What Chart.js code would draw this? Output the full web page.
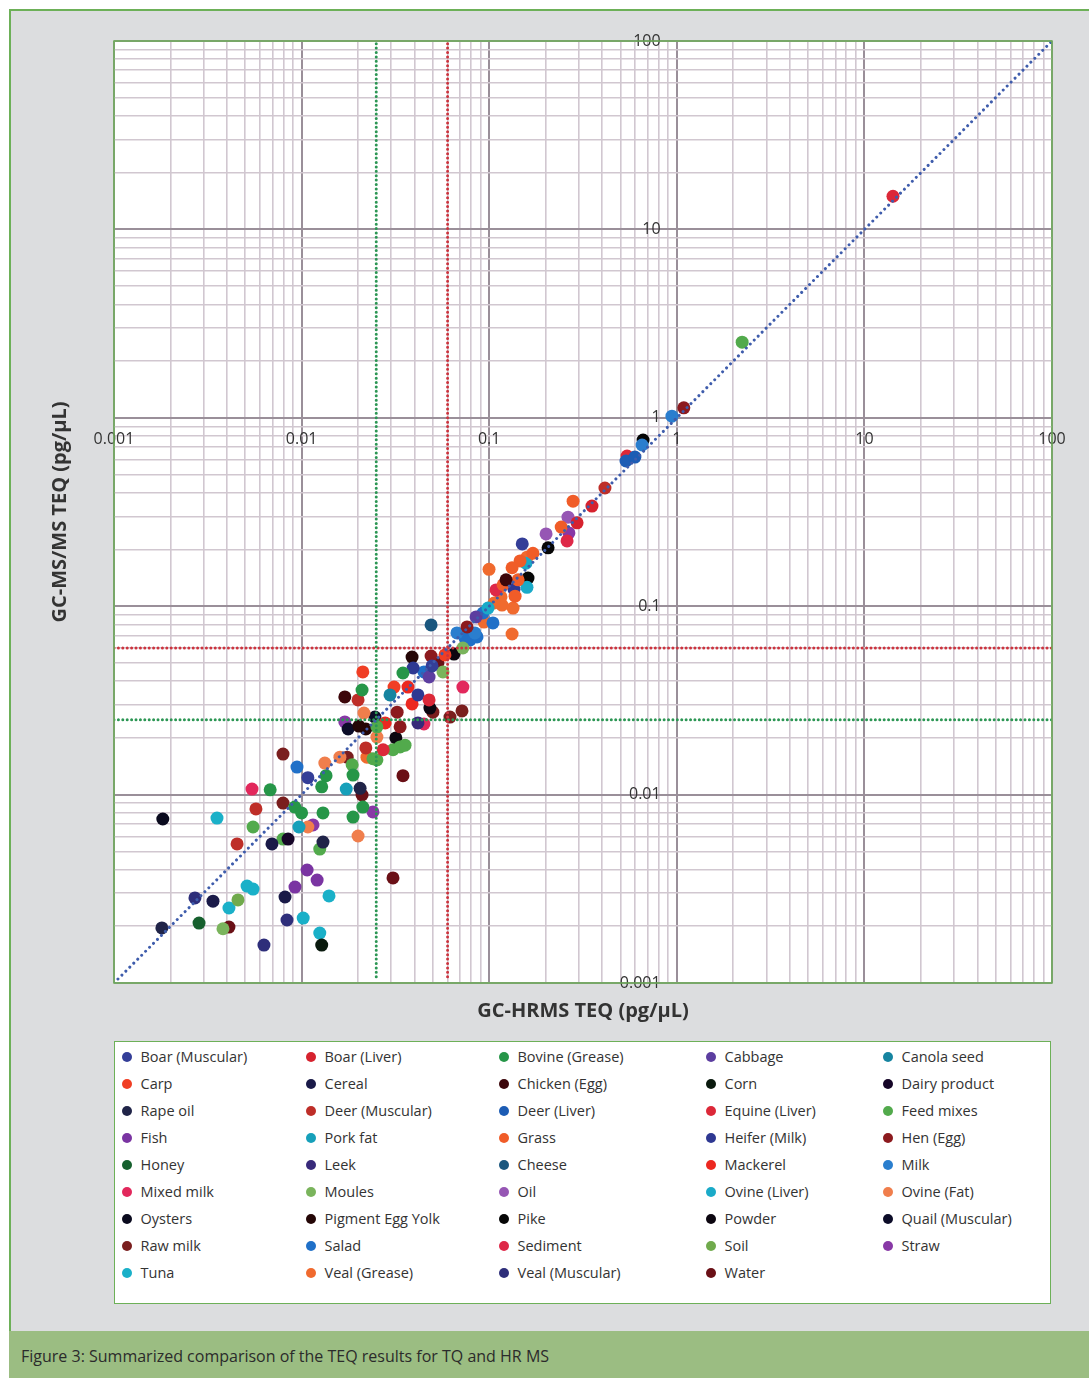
<!DOCTYPE html>
<html>
<head>
<meta charset="utf-8">
<script src="https://cdn.jsdelivr.net/npm/chart.js@4.4.1/dist/chart.umd.min.js"></script>
<style>
  html, body { margin: 0; padding: 0; background: #ffffff; }
  body { width: 1089px; height: 1378px; position: relative; overflow: hidden; font-family: 'Open Sans', sans-serif; }
  #frame { position: absolute; left: 9px; top: 9px; width: 1100px; height: 1380px; background: #dcdddf;
           border-left: 2px solid #6db058; border-top: 2px solid #6db058; }
  #chartWrap { position: absolute; left: 0; top: 0; width: 1089px; height: 1035px; }
  #legend { position: absolute; left: 114px; top: 1041px; width: 935px; height: 261px; background: #ffffff;
            border: 1.5px solid #6db058; box-sizing: content-box; }
  #legendGrid { position: absolute; left: 6.5px; top: 1px; display: grid;
                grid-template-columns: 184px 193px 207px 177px 170px; grid-auto-rows: 27px; }
  .li { display: flex; align-items: center; font-size: 14.5px; color: #333333; white-space: nowrap; }
  .li .dot { width: 10px; height: 10px; border-radius: 50%; margin-right: 9px; flex: 0 0 auto; }
  #caption { position: absolute; left: 9px; top: 1331px; width: 1090px; height: 50px; background: #9bbd82; }
  #caption span { position: absolute; left: 12px; top: 14px; font-size: 16px; color: #2b2b2b; }
</style>
</head>
<body>
<div id="frame"></div>
<div id="chartWrap"><canvas id="c" width="1089" height="1035"></canvas></div>
<div id="legend"><div id="legendGrid"></div></div>
<div id="caption"><span>Figure 3: Summarized comparison of the TEQ results for TQ and HR MS</span></div>
<script>
// ---------------- DATA ----------------
const categories = [
  'Boar (Muscular)', 'Boar (Liver)', 'Bovine (Grease)', 'Cabbage', 'Canola seed',
  'Carp', 'Cereal', 'Chicken (Egg)', 'Corn', 'Dairy product',
  'Rape oil', 'Deer (Muscular)', 'Deer (Liver)', 'Equine (Liver)', 'Feed mixes',
  'Fish', 'Pork fat', 'Grass', 'Heifer (Milk)', 'Hen (Egg)',
  'Honey', 'Leek', 'Cheese', 'Mackerel', 'Milk',
  'Mixed milk', 'Moules', 'Oil', 'Ovine (Liver)', 'Ovine (Fat)',
  'Oysters', 'Pigment Egg Yolk', 'Pike', 'Powder', 'Quail (Muscular)',
  'Raw milk', 'Salad', 'Sediment', 'Soil', 'Straw',
  'Tuna', 'Veal (Grease)', 'Veal (Muscular)', 'Water'
];

// GC-HRMS TEQ (pg/µL), per category
const hrmsTEQ = [
  [0.0108, 0.150, 0.0496],
  [0.294, 0.353],
  [0.021, 0.0135, 0.0188, 0.0128, 0.0068, 0.0092, 0.0100, 0.0130, 0.0188, 0.0212, 0.0347],
  [0.0478, 0.0851],
  [0.0296],
  [0.0581, 0.0212, 0.0311],
  [0.00337, 0.00695, 0.00816],
  [0.123, 0.017],
  [0.0128],
  [0.00847],
  [0.0018, 0.0205, 0.013],
  [0.00571, 0.414, 0.00453, 0.020, 0.022],
  [0.536, 0.598],
  [14.2, 0.543, 0.0478, 0.0272],
  [2.23, 0.0252, 0.0307, 0.0335, 0.0356, 0.024, 0.0252, 0.00551, 0.00796, 0.0125, 0.0186],
  [0.0107, 0.00922, 0.0121],
  [0.0173, 0.00968],
  [0.280, 0.242, 0.171, 0.146, 0.1324, 0.1426, 0.1186, 0.1374],
  [0.1356, 0.0393, 0.0417],
  [1.09, 0.0762, 0.049, 0.0323, 0.0335],
  [0.00284],
  [0.0417],
  [0.049],
  [0.0369, 0.0388, 0.0279],
  [0.942, 0.653, 0.0673, 0.0839],
  [0.00544, 0.0724, 0.0449],
  [0.0724, 0.0567, 0.00381],
  [0.201, 0.263],
  [0.157, 0.159, 0.0986],
  [0.020, 0.0252, 0.0215, 0.016, 0.0133, 0.0108],
  [0.00182],
  [0.0388, 0.022, 0.0202],
  [0.661, 0.206, 0.161],
  [0.0649, 0.0483, 0.0318],
  [0.0177, 0.0246],
  [0.00796, 0.00796, 0.0716, 0.0618, 0.0175, 0.0501],
  [0.00945, 0.0927, 0.1047, 0.0743, 0.0791, 0.0861, 0.0449],
  [0.260, 0.1087],
  [0.00458],
  [0.266, 0.024, 0.0115, 0.017],
  [0.00354, 0.00512, 0.00551, 0.0041, 0.0102, 0.0125, 0.014],
  [0.159, 0.0998, 0.1156, 0.117, 0.134, 0.1062, 0.0938, 0.1324, 0.0223],
  [0.0027, 0.0063, 0.00836],
  [0.0307, 0.0041, 0.0347, 0.0533, 0.021]
];

// GC-MS/MS TEQ (pg/µL), per category (same order as hrmsTEQ)
const msmsTEQ = [
  [0.0123, 0.214, 0.0482],
  [0.277, 0.340],
  [0.0359, 0.0126, 0.0127, 0.0110, 0.0106, 0.00859, 0.00799, 0.00799, 0.0076, 0.00859, 0.0442],
  [0.0421, 0.0877],
  [0.0338],
  [0.0551, 0.0448, 0.0372],
  [0.00272, 0.00547, 0.00286],
  [0.138, 0.033],
  [0.00159],
  [0.00581],
  [0.00196, 0.0108, 0.0056],
  [0.00839, 0.424, 0.00547, 0.0318, 0.0177],
  [0.590, 0.619],
  [15.0, 0.627, 0.0318, 0.0173],
  [2.52, 0.0229, 0.0173, 0.0179, 0.0183, 0.0155, 0.0153, 0.00673, 0.00581, 0.00514, 0.0144],
  [0.00398, 0.00323, 0.00352],
  [0.0107, 0.00673],
  [0.361, 0.263, 0.191, 0.174, 0.160, 0.138, 0.130, 0.113],
  [0.123, 0.047, 0.0338],
  [1.13, 0.0776, 0.0544, 0.0274, 0.0229],
  [0.00208],
  [0.024],
  [0.0795],
  [0.0372, 0.0303, 0.024],
  [1.02, 0.717, 0.0721, 0.0721],
  [0.0107, 0.0372, 0.0237],
  [0.060, 0.0448, 0.00194],
  [0.242, 0.297],
  [0.169, 0.126, 0.0977],
  [0.00603, 0.0202, 0.0271, 0.0158, 0.0147, 0.00673],
  [0.00742],
  [0.0537, 0.0223, 0.0231],
  [0.762, 0.204, 0.141],
  [0.0557, 0.0288, 0.020],
  [0.0223, 0.0258],
  [0.0164, 0.00902, 0.0278, 0.0258, 0.0158, 0.0274],
  [0.014, 0.092, 0.0815, 0.0678, 0.0662, 0.0687, 0.0448],
  [0.222, 0.122],
  [0.00276],
  [0.245, 0.00809, 0.0069, 0.0243],
  [0.00751, 0.00327, 0.00315, 0.0025, 0.00221, 0.00184, 0.0029],
  [0.182, 0.157, 0.112, 0.1014, 0.0977, 0.104, 0.0824, 0.0712, 0.0158],
  [0.00283, 0.00159, 0.00216],
  [0.00361, 0.00198, 0.0126, 0.05, 0.00995]
];

const axisRange = [0.001, 100];
const decadeLabels = ['0.001', '0.01', '0.1', '1', '10', '100'];
const limitGreen = 0.025;   // dotted green limit (both axes)
const limitRed = 0.06;      // dotted red limit (both axes)
const xTitle = 'GC-HRMS TEQ (pg/µL)';
const yTitle = 'GC-MS/MS TEQ (pg/µL)';

// ---------------- STYLES ----------------
const colors = [
  'rgb(52,62,152)', 'rgb(214,34,46)', 'rgb(38,150,72)', 'rgb(92,62,160)', 'rgb(22,132,160)',
  'rgb(240,62,36)', 'rgb(26,26,72)', 'rgb(60,6,10)', 'rgb(10,26,14)', 'rgb(22,6,40)',
  'rgb(32,36,72)', 'rgb(190,46,40)', 'rgb(28,92,180)', 'rgb(220,40,56)', 'rgb(82,170,76)',
  'rgb(122,52,162)', 'rgb(22,160,186)', 'rgb(240,92,40)', 'rgb(46,56,146)', 'rgb(140,26,30)',
  'rgb(22,96,46)', 'rgb(56,42,122)', 'rgb(26,86,126)', 'rgb(236,40,32)', 'rgb(42,126,206)',
  'rgb(226,40,92)', 'rgb(122,180,92)', 'rgb(150,86,180)', 'rgb(26,170,200)', 'rgb(240,126,76)',
  'rgb(10,10,30)', 'rgb(36,6,6)', 'rgb(6,6,6)', 'rgb(12,6,16)', 'rgb(12,12,40)',
  'rgb(122,30,30)', 'rgb(32,112,200)', 'rgb(222,40,72)', 'rgb(112,170,76)', 'rgb(136,56,166)',
  'rgb(26,176,200)', 'rgb(240,106,46)', 'rgb(46,46,122)', 'rgb(106,16,22)'
];
const gridMajor = '#9a8f99';
const gridMinor = '#d1c7d0';
const plotBorder = '#6db058';

// ---------------- BUILD ----------------
const isDecade = v => Math.abs(Math.log10(v) - Math.round(Math.log10(v))) < 1e-9;
const gridValues = [];
for (let e = Math.round(Math.log10(axisRange[0])); e <= Math.round(Math.log10(axisRange[1])); e++) {
  for (let m = 1; m <= 9; m++) {
    const v = m * Math.pow(10, e);
    if (v <= axisRange[1] * 1.0000001) gridValues.push(v);
  }
}
const decadeLabel = v => decadeLabels[Math.round(Math.log10(v)) - Math.round(Math.log10(axisRange[0]))];

function dottedLine(data, color, width, gap) {
  return {
    type: 'line', label: '__ref', data, borderColor: color, backgroundColor: color,
    borderWidth: width, borderDash: [0.001, gap], borderCapStyle: 'round',
    pointRadius: 0, pointHoverRadius: 0, fill: false, showLine: true, order: -1, tension: 0
  };
}

const refSets = [
  dottedLine([{x: axisRange[0], y: axisRange[0]}, {x: axisRange[1], y: axisRange[1]}], 'rgb(62,92,172)', 3, 5.6),
  dottedLine([{x: limitGreen, y: 0.00108}, {x: limitGreen, y: axisRange[1]}], 'rgb(44,150,84)', 3, 4.4),
  dottedLine([{x: limitRed, y: 0.00108}, {x: limitRed, y: axisRange[1]}], 'rgb(204,52,62)', 3, 4.4),
  dottedLine([{x: axisRange[0], y: limitRed}, {x: axisRange[1], y: limitRed}], 'rgb(204,52,62)', 3, 4.4),
  dottedLine([{x: axisRange[0], y: limitGreen}, {x: axisRange[1], y: limitGreen}], 'rgb(44,150,84)', 3, 4.4)
];

const pointSets = categories.map((name, i) => ({
  label: name,
  data: hrmsTEQ[i].map((x, j) => ({x: x, y: msmsTEQ[i][j]})),
  backgroundColor: colors[i], borderColor: colors[i], borderWidth: 0,
  pointRadius: 6.5, pointHoverRadius: 6.5, order: 1
}));

const gridStyle = {
  color: c => (c.tick && isDecade(c.tick.value)) ? gridMajor : gridMinor,
  lineWidth: c => (c.tick && isDecade(c.tick.value)) ? 2 : 1.6,
  drawTicks: false
};
const tickStyle = {
  autoSkip: false, maxRotation: 0, minRotation: 0,
  color: '#333333', font: {family: 'Open Sans', size: 16},
  callback: v => isDecade(v) ? decadeLabel(v) : ''
};
const buildTicks = scale => { scale.ticks = gridValues.map(v => ({value: v})); };

const plotDecor = {
  id: 'plotDecor',
  beforeDraw(chart) {
    const {ctx, chartArea: a} = chart;
    ctx.save(); ctx.fillStyle = '#ffffff';
    ctx.fillRect(a.left, a.top, a.right - a.left, a.bottom - a.top); ctx.restore();
  },
  afterDraw(chart) {
    const {ctx, chartArea: a} = chart;
    ctx.save(); ctx.strokeStyle = plotBorder; ctx.lineWidth = 1.5;
    ctx.strokeRect(a.left, a.top, a.right - a.left, a.bottom - a.top); ctx.restore();
  }
};

const chart = new Chart(document.getElementById('c'), {
  type: 'scatter',
  data: { datasets: refSets.concat(pointSets) },
  plugins: [plotDecor],
  options: {
    responsive: false, animation: false, devicePixelRatio: 1,
    layout: { padding: { top: 41, right: 37, bottom: 8, left: 0 } },
    plugins: { legend: { display: false }, tooltip: { enabled: false } },
    scales: {
      x: {
        type: 'logarithmic', min: axisRange[0], max: axisRange[1], position: { y: 1 },
        grid: gridStyle, border: { display: false },
        ticks: Object.assign({ padding: 12 }, tickStyle), afterBuildTicks: buildTicks
      },
      y: {
        // labels sit just left of the x = 1 line
        type: 'logarithmic', min: axisRange[0], max: axisRange[1], position: { x: 0.82 },
        grid: gridStyle, border: { display: false },
        ticks: Object.assign({ padding: 0 }, tickStyle), afterBuildTicks: buildTicks
      },
      x2: {
        type: 'logarithmic', min: axisRange[0], max: axisRange[1], position: 'bottom',
        grid: { display: false, drawTicks: false }, border: { display: false }, ticks: { display: false },
        title: { display: true, text: xTitle, color: '#333333',
                 font: { family: 'Open Sans', size: 20, weight: 'bold', lineHeight: 1.2 },
                 padding: { top: 16, bottom: 4 } }
      },
      y2: {
        type: 'logarithmic', min: axisRange[0], max: axisRange[1], position: 'left',
        grid: { display: false, drawTicks: false }, border: { display: false }, ticks: { display: false },
        title: { display: true, text: yTitle, color: '#333333',
                 font: { family: 'Open Sans', size: 20, weight: 'bold', lineHeight: 1.2 },
                 padding: { top: 48, bottom: 42 } }
      }
    }
  }
});

// HTML legend built from the chart's own legend items (5 columns, row-major)
const items = Chart.defaults.plugins.legend.labels.generateLabels(chart)
  .filter(it => chart.data.datasets[it.datasetIndex].label !== '__ref');
const grid = document.getElementById('legendGrid');
items.forEach(it => {
  const d = document.createElement('div'); d.className = 'li';
  const dot = document.createElement('span'); dot.className = 'dot'; dot.style.background = it.fillStyle;
  const t = document.createElement('span'); t.textContent = it.text;
  d.appendChild(dot); d.appendChild(t); grid.appendChild(d);
});
</script>
</body>
</html>
